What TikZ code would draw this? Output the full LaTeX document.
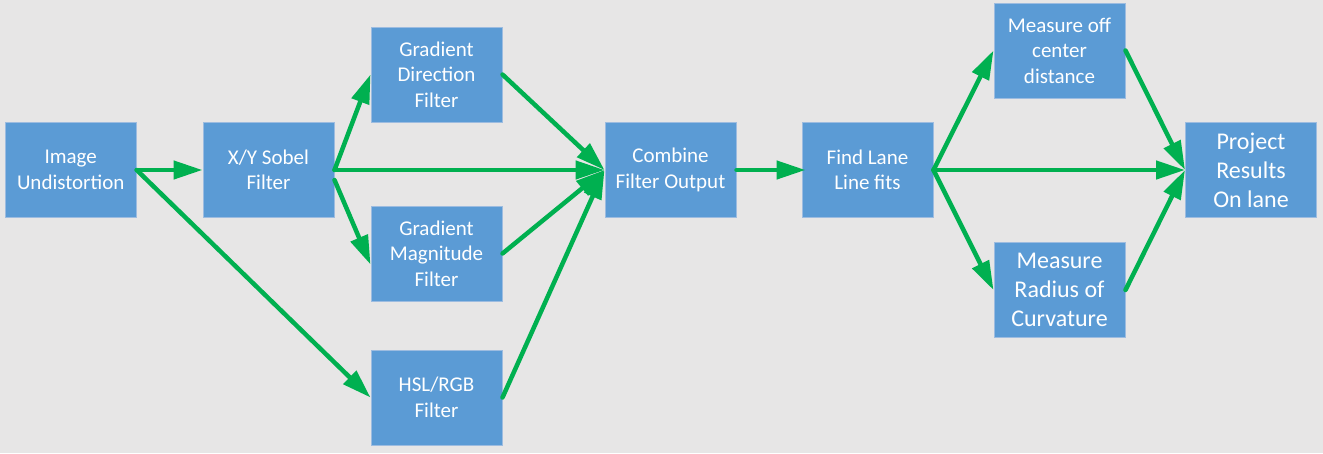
\documentclass[tikz,border=0pt]{standalone}
\usepackage{fontspec}
\setmainfont{Carlito}
\usetikzlibrary{arrows.meta,calc}
\definecolor{bg}{HTML}{E7E6E6}
\definecolor{boxfill}{HTML}{5B9BD5}
\definecolor{boxline}{HTML}{9DBCE0}
\definecolor{flow}{HTML}{00B050}
\tikzset{
  procbox/.style={draw=boxline, line width=1pt, fill=boxfill, text=white,
    minimum width=131pt, minimum height=95pt, inner sep=0pt, align=center,
    font=\fontsize{21pt}{25.5pt}\selectfont},
  bigtext/.style={font=\fontsize{24pt}{29pt}\selectfont},
  flowarrow/.style={draw=flow, line width=4.5pt, line cap=round,
    -{Triangle[length=29pt, width=18pt]}},
}
\begin{document}
\begin{tikzpicture}[x=1pt,y=-1pt]
\fill[bg] (0,0) rectangle (1323,453);
\useasboundingbox (0,0) rectangle (1323,453);
\node[procbox] (img)  at (70.7,170)   {Image\\Undistortion};
\node[procbox] (sob)  at (268.5,170)  {X/Y Sobel\\Filter};
\node[procbox] (gd)   at (436.5,74.5) {Gradient\\Direction\\Filter};
\node[procbox] (gm)   at (436.5,253.5){Gradient\\Magnitude\\Filter};
\node[procbox] (hsl)  at (436.5,397.5){HSL/RGB\\Filter};
\node[procbox] (comb) at (670.5,170)  {Combine\\Filter Output};
\node[procbox] (find) at (867.5,170)  {Find Lane\\Line fits};
\node[procbox] (moff) at (1059.5,50.5){Measure off\\center\\distance};
\node[procbox,bigtext] (rad)  at (1059.5,290) {Measure\\Radius of\\Curvature};
\node[procbox,bigtext] (proj) at (1251,170)   {Project\\Results\\On lane};
\coordinate (sobm) at ($(sob.east)+(0,10)$);
\coordinate (gmin) at ($(gm.west)+(0,11)$);
\coordinate (findin) at ($(find.west)+(4,0)$);
\draw[flowarrow] (img.east) -- (sob.west);
\draw[flowarrow] (img.east) -- (hsl.west);
\draw[flowarrow] (sob.east) -- (gd.west);
\draw[flowarrow] (sobm) -- (gmin);
\draw[flowarrow] (sob.east) -- (comb.west);
\draw[flowarrow] (gd.east) -- (comb.west);
\draw[flowarrow] (gm.east) -- (comb.west);
\draw[flowarrow] (hsl.east) -- (comb.west);
\draw[flowarrow] (comb.east) -- (findin);
\draw[flowarrow] (find.east) -- (moff.west);
\draw[flowarrow] (find.east) -- (proj.west);
\draw[flowarrow] (find.east) -- (rad.west);
\draw[flowarrow] (moff.east) -- (proj.west);
\draw[flowarrow] (rad.east) -- (proj.west);
\end{tikzpicture}
\end{document}
